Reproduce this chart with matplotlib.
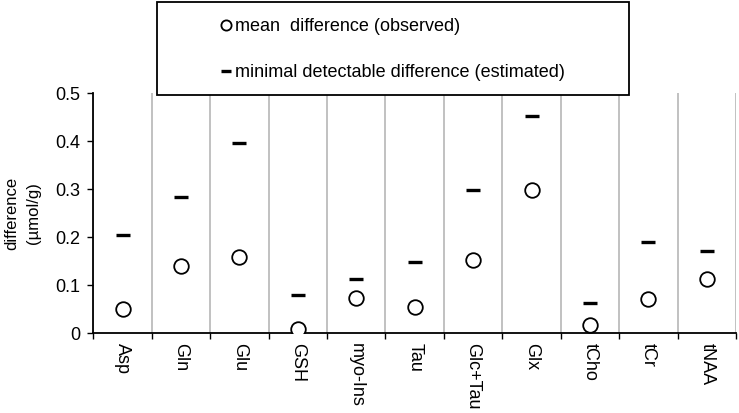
import numpy as np
import matplotlib.pyplot as plt
from matplotlib.patches import Rectangle

plt.rcParams['font.family'] = ['Liberation Sans', 'DejaVu Sans']

# --- Data ---
metabolites = ['Asp', 'Gln', 'Glu', 'GSH', 'myo-Ins', 'Tau', 'Glc+Tau', 'Glx', 'tCho', 'tCr', 'tNAA']
mean_diff = [0.050, 0.139, 0.159, 0.008, 0.073, 0.054, 0.152, 0.299, 0.018, 0.071, 0.112]
min_detect = [0.205, 0.283, 0.396, 0.080, 0.114, 0.149, 0.299, 0.453, 0.063, 0.191, 0.171]

# --- Plot ---
W, H = 739, 413
fig = plt.figure(figsize=(W/100, H/100), dpi=100)
ax = fig.add_axes([93.3/W, 1-333.3/H, (736-93.3)/W, (333.3-93)/H])

x = np.arange(len(metabolites))
ax.plot(x, mean_diff, 'o', ms=10.5, mfc='white', mec='black', mew=1.3,
        label='mean  difference (observed)', zorder=3)
ax.plot(x, min_detect, '_', ms=9.5, mec='black', mew=2.4,
        label='minimal detectable difference (estimated)', zorder=3)

ax.set_xlim(-0.5, len(metabolites) - 0.5)
ax.set_ylim(0, 0.5)
ax.set_yticks([0, 0.1, 0.2, 0.3, 0.4, 0.5])
ax.set_yticklabels(['0', '0.1', '0.2', '0.3', '0.4', '0.5'], fontsize=13)

# boundaries as major ticks (with grid), names as minor ticks
ax.set_xticks(np.arange(-0.5, len(metabolites)), labels=[])
ax.set_xticks(x, labels=metabolites, minor=True, rotation=270, fontsize=13)
ax.tick_params(axis='x', which='minor', length=0, pad=7)
ax.tick_params(axis='x', which='major', direction='out', length=4.5, width=1)
ax.tick_params(axis='y', direction='out', length=4.5, width=1, pad=5)
ax.grid(axis='x', which='major', color='#b0b0b0', lw=1.1)
ax.set_axisbelow(True)

for s in ['top', 'right']:
    ax.spines[s].set_visible(False)
for s in ['left', 'bottom']:
    ax.spines[s].set_linewidth(1.3)

ax.set_ylabel('difference\n(µmol/g)', fontsize=12, labelpad=10, linespacing=1.6)

fig.legend(loc='upper left', bbox_to_anchor=(213.4/W, 1 - 11/H), frameon=False,
           fontsize=13, handlelength=0.6, handletextpad=0.2, labelspacing=1.6,
           borderpad=0.4, borderaxespad=0, markerscale=0.7)
fig.patches.append(Rectangle((156.7/W, 1 - 95/H), (629-156.7)/W, (95-1.7)/H,
                             transform=fig.transFigure, fill=True, fc='white',
                             ec='black', lw=1.3, zorder=0.5))

fig.savefig('out.png', dpi=100)
